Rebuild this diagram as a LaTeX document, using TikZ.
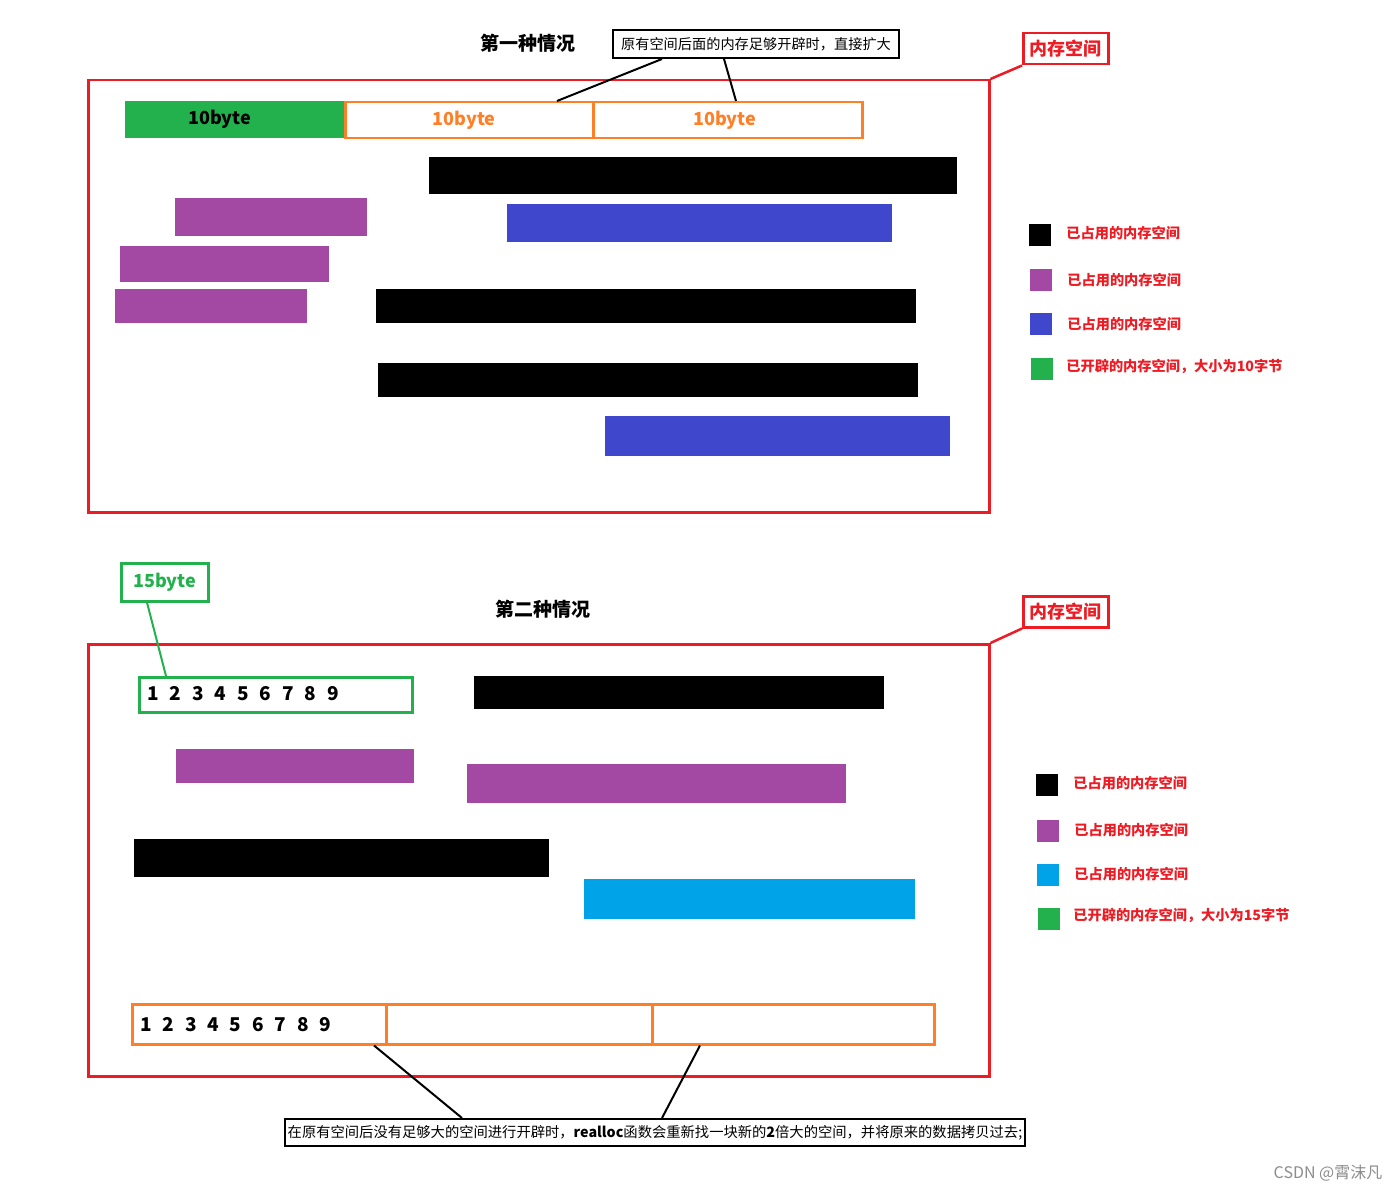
\documentclass[tikz,border=0pt]{standalone}
\usepackage{fontspec}
\setmainfont{Noto Sans CJK SC}
\usetikzlibrary{positioning}
\definecolor{redc}{HTML}{ED1C24}
\definecolor{grnc}{HTML}{22B14C}
\definecolor{orgc}{HTML}{FF7F27}
\definecolor{purc}{HTML}{A349A4}
\definecolor{bluc}{HTML}{3F48CC}
\definecolor{cyac}{HTML}{00A2E8}
\newcommand{\fs}[1]{\fontsize{#1}{#1}\selectfont}

\begin{document}
\begin{tikzpicture}[x=1pt,y=-1pt,
  blk/.style={fill=#1,draw=none,inner sep=0pt,anchor=north west},
  seg/.style={draw=orgc,line width=2.5pt,inner sep=0pt,anchor=north west,text=orgc,font=\bfseries\fs{18}},
  frame/.style={draw=redc,line width=2.5pt,inner sep=0pt,anchor=north west},
  tag/.style={draw=redc,line width=2.5pt,text=redc,font=\bfseries\fs{18},inner sep=0pt,minimum width=85pt,minimum height=31pt,anchor=north west},
  note/.style={draw=black,line width=2pt,inner sep=0pt,anchor=north west},
  key/.style={fill=#1,minimum size=22pt,inner sep=0pt},
  leg/.style={text=redc,font=\bfseries\fs{14.2},inner sep=0pt,anchor=west},
  ttl/.style={font=\bfseries\fs{19}},
  num/.style={font=\bfseries\fs{19},inner sep=0pt,anchor=base}]
\useasboundingbox (0,0) rectangle (1400,1190);
% ---- first case ----
\node[ttl] (t1) at (528,43) {第一种情况};
\node[note,minimum width=286pt,minimum height=28pt,font=\fs{14.2}] (n1) at (612,29) {原有空间后面的内存足够开辟时，直接扩大};
\node[frame,minimum width=901pt,minimum height=432pt] (m1) at (87,79) {};
\node[tag] (r1) at (1022,32) {内存空间};
\draw[redc,line width=2.5pt] (r1.south west) -- (m1.north east);
\node[blk=grnc,minimum width=219pt,minimum height=37pt,font=\bfseries\fs{18}] (g0) at (125,101) {10byte\kern30pt};
\node[seg,minimum width=248pt,minimum height=36pt] (o1) at (344,101) {10byte\kern10pt};
\node[seg,minimum width=269pt,minimum height=36pt] (o2) at (592,101) {10byte\kern6pt};
\draw[line width=2pt] ([xshift=50pt]n1.south west) -- ([xshift=213pt]o1.north west);
\draw[line width=2pt] ([xshift=112pt]n1.south west) -- ([xshift=144pt]o2.north west);
\node[blk=black,minimum width=528pt,minimum height=37pt] (k1) at (429,157) {};
\node[blk=black,minimum width=540pt,minimum height=34pt] (k2) at (376,289) {};
\node[blk=black,minimum width=540pt,minimum height=34pt] (k3) at (378,363) {};
\node[blk=purc,minimum width=192pt,minimum height=38pt] (p1) at (175,198) {};
\node[blk=purc,minimum width=209pt,minimum height=36pt] (p2) at (120,246) {};
\node[blk=purc,minimum width=192pt,minimum height=34pt] (p3) at (115,289) {};
\node[blk=bluc,minimum width=385pt,minimum height=38pt] (u1) at (507,204) {};
\node[blk=bluc,minimum width=345pt,minimum height=40pt] (u2) at (605,416) {};
% legend
\node[key=black] (a1) at (1040,235) {};
\node[key=purc] (a2) at (1041,280.5) {};
\node[key=bluc] (a3) at (1041,324) {};
\node[key=grnc] (a4) at (1042,369) {};
\node[leg,right=15pt of a1,yshift=2pt] (la1) {已占用的内存空间};
\node[leg,right=15pt of a2] (la2) {已占用的内存空间};
\node[leg,right=15pt of a3] (la3) {已占用的内存空间};
\node[leg,right=13pt of a4,yshift=3pt] (la4) {已开辟的内存空间，大小为10字节};
% ---- second case ----
\node[ttl] (t2) at (543,609) {第二种情况};
\node[draw=grnc,line width=2.5pt,text=grnc,font=\bfseries\fs{18},inner sep=0pt,minimum width=87pt,minimum height=38pt,anchor=north west] (f1) at (120,562) {15byte};
\node[frame,minimum width=901pt,minimum height=432pt] (m2) at (87,643) {};
\node[tag] (r2) at (1022,595) {内存空间};
\draw[redc,line width=2.5pt] (r2.south west) -- (m2.north east);
\node[draw=grnc,line width=2.5pt,inner sep=0pt,minimum width=273pt,minimum height=35pt,anchor=north west] (g1) at (138,676) {};
\draw[grnc,line width=2pt] ([xshift=27pt]f1.south west) -- ([xshift=28pt]g1.north west);
\foreach\d in{1,...,9}{\node[num] (c\d) at ({153+22.5*(\d-1)},700.5) {\d};}
\node[blk=black,minimum width=410pt,minimum height=33pt] (k4) at (474,676) {};
\node[blk=black,minimum width=415pt,minimum height=38pt] (k5) at (134,839) {};
\node[blk=purc,minimum width=238pt,minimum height=34pt] (p4) at (176,749) {};
\node[blk=purc,minimum width=379pt,minimum height=39pt] (p5) at (467,764) {};
\node[blk=cyac,minimum width=331pt,minimum height=40pt] (u3) at (584,879) {};
\node[seg,minimum width=254pt,minimum height=40pt] (b1) at (131,1003) {};
\node[seg,minimum width=266pt,minimum height=40pt] (b2) at (385,1003) {};
\node[seg,minimum width=282pt,minimum height=40pt] (b3) at (651,1003) {};
\foreach\d in{1,...,9}{\node[num] (e\d) at ({146+22.4*(\d-1)},1031.5) {\d};}
\node[note,minimum width=740pt,minimum height=27pt,font=\fs{14.3}] (n2) at (284,1118) {在原有空间后没有足够大的空间进行开辟时，\textbf{realloc}函数会重新找一块新的\textbf{2}倍大的空间，并将原来的数据拷贝过去;};
\draw[line width=2pt] ([xshift=243pt]b1.south west) -- ([xshift=178pt]n2.north west);
\draw[line width=2pt] ([xshift=49pt]b3.south west) -- ([xshift=378pt]n2.north west);
% legend
\node[key=black] (d1) at (1047,785) {};
\node[key=purc] (d2) at (1048,830.5) {};
\node[key=cyac] (d3) at (1048,874.5) {};
\node[key=grnc] (d4) at (1049,918.5) {};
\node[leg,right=15pt of d1,yshift=2pt] (ld1) {已占用的内存空间};
\node[leg,right=15pt of d2] (ld2) {已占用的内存空间};
\node[leg,right=15pt of d3] (ld3) {已占用的内存空间};
\node[leg,right=13pt of d4,yshift=3pt] (ld4) {已开辟的内存空间，大小为15字节};
\node[text=black!45,font=\fs{16}] (wm) at (1328,1173) {CSDN @霄沫凡};
\end{tikzpicture}
\end{document}
